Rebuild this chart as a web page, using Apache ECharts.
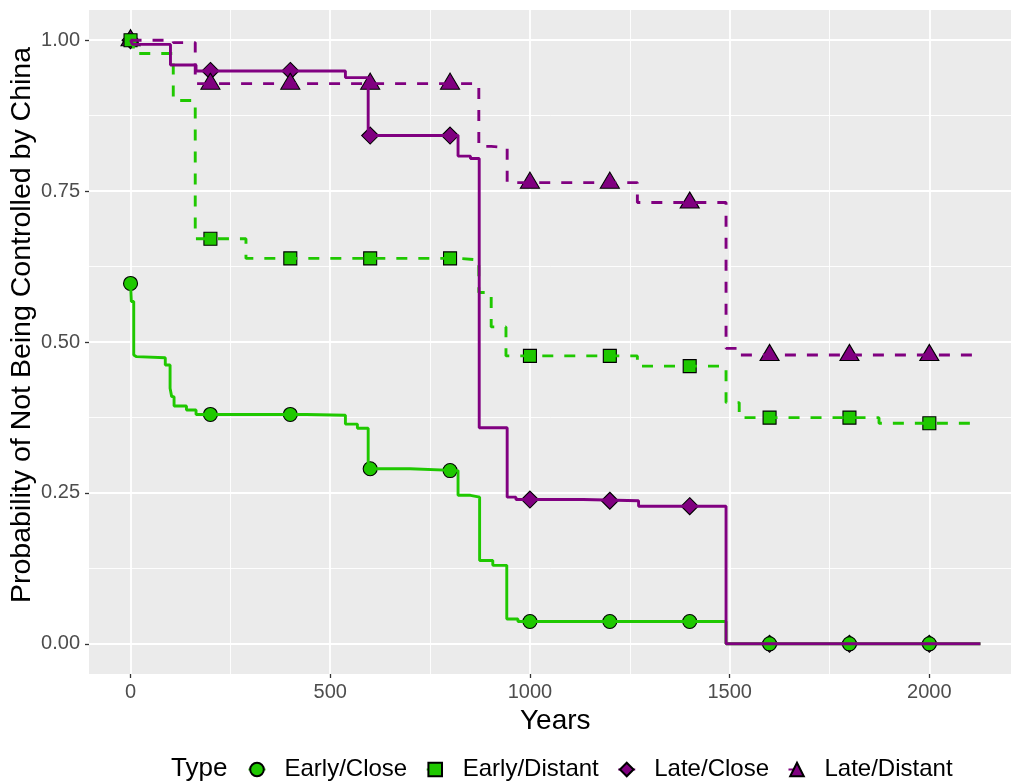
<!DOCTYPE html>
<html><head><meta charset="utf-8">
<script src="https://cdn.jsdelivr.net/npm/echarts@6.0.0/dist/echarts.min.js"></script>
<style>html,body{margin:0;padding:0;background:#fff}#chart{width:1011px;height:783px}</style>
</head><body><div id="chart"></div>
<script>
// ---- data ----
const groups = ['Early/Close', 'Early/Distant', 'Late/Close', 'Late/Distant'];

const earlyCloseYears = [0, 2, 8, 12, 15, 87, 99, 103, 109, 140, 164, 440, 538, 568, 595, 700, 820, 851, 874, 907, 942, 970, 1491, 2128];
const earlyCloseSurv  = [0.597, 0.567, 0.4785, 0.4757, 0.474, 0.462, 0.4233, 0.4095, 0.394, 0.3874, 0.380, 0.3786, 0.364, 0.357, 0.290, 0.287, 0.246, 0.243, 0.138, 0.130, 0.041, 0.037, 0, 0];

const earlyDistantYears = [0, 7, 107, 162, 289, 822, 872, 903, 940, 1269, 1491, 1524, 1874, 2128];
const earlyDistantSurv  = [1.0, 0.978, 0.900, 0.671, 0.6385, 0.636, 0.582, 0.525, 0.477, 0.460, 0.3996, 0.3747, 0.3653, 0.3653];

const lateCloseYears = [0, 5, 100, 164, 538, 595, 820, 851, 873, 943, 965, 1133, 1272, 1491, 2128];
const lateCloseSurv  = [1.0, 0.993, 0.959, 0.949, 0.938, 0.842, 0.808, 0.804, 0.358, 0.243, 0.239, 0.237, 0.228, 0, 0];

const lateDistantYears = [0, 107, 162, 872, 903, 943, 1269, 1491, 1524, 2128];
const lateDistantSurv  = [1.0, 0.996, 0.928, 0.824, 0.822, 0.764, 0.731, 0.4895, 0.4785, 0.4785];

const markerYears = [0, 200, 400, 600, 800, 1000, 1200, 1400, 1600, 1800, 2000];
const earlyCloseMarks   = [0.597, 0.380, 0.380, 0.290, 0.287, 0.037, 0.037, 0.037, 0, 0, 0];
const earlyDistantMarks = [1.0, 0.671, 0.6385, 0.6385, 0.6385, 0.477, 0.477, 0.460, 0.3747, 0.3747, 0.3653];
const lateCloseMarks    = [1.0, 0.949, 0.949, 0.842, 0.842, 0.239, 0.237, 0.228, 0, 0, 0];
const lateDistantMarks  = [1.0, 0.928, 0.928, 0.928, 0.928, 0.764, 0.764, 0.731, 0.4785, 0.4785, 0.4785];

const xTicks = [0, 500, 1000, 1500, 2000];
const xMinorTicks = [250, 750, 1250, 1750];
const yTicks = [0, 0.25, 0.5, 0.75, 1];
const yMinorTicks = [0.125, 0.375, 0.625, 0.875];

const xTitle = 'Years';
const yTitle = 'Probability of Not Being Controlled by China';
const legendTitle = 'Type';

// ---- styling ----
const GREEN = '#1fc800', PURPLE = '#800080';
const FONT = '"Liberation Sans", Arial, Helvetica, sans-serif';
const X_MIN = -104, X_MAX = 2231, Y_MIN = -0.05, Y_MAX = 1.05;
const DASH = [11, 11];

const curves = {
  'Early/Close':   {years: earlyCloseYears, surv: earlyCloseSurv, marks: earlyCloseMarks, color: GREEN, dash: 'solid', symbol: 'circle', size: 14, offset: [0, 0]},
  'Early/Distant': {years: earlyDistantYears, surv: earlyDistantSurv, marks: earlyDistantMarks, color: GREEN, dash: DASH, symbol: 'rect', size: 13, offset: [0, 0]},
  'Late/Close':    {years: lateCloseYears, surv: lateCloseSurv, marks: lateCloseMarks, color: PURPLE, dash: 'solid', symbol: 'diamond', size: 17, offset: [0, 0]},
  'Late/Distant':  {years: lateDistantYears, surv: lateDistantSurv, marks: lateDistantMarks, color: PURPLE, dash: DASH, symbol: 'triangle', size: [19, 16], offset: [0, -2.5]}
};

const series = [];
groups.forEach(name => {
  const c = curves[name];
  series.push({
    name: name, type: 'line', step: 'end',
    data: c.years.map((t, i) => [t, c.surv[i]]),
    showSymbol: false, symbol: c.symbol, symbolSize: c.size,
    lineStyle: {color: c.color, width: 2.9, type: c.dash, cap: 'butt'},
    itemStyle: {color: c.color, borderColor: '#000', borderWidth: 1},
    emphasis: {disabled: true}, silent: true
  });
});
['Late/Close', 'Late/Distant', 'Early/Close', 'Early/Distant'].forEach(name => {
  const c = curves[name];
  series.push({
    name: name + ' points', type: 'scatter',
    data: markerYears.map((t, i) => [t, c.marks[i]]),
    symbol: c.symbol, symbolSize: c.size, symbolOffset: c.offset,
    itemStyle: {color: c.color, borderColor: '#000', borderWidth: 1.1, opacity: 1},
    emphasis: {disabled: true}, silent: true
  });
});

const chart = echarts.init(document.getElementById('chart'), null, {renderer: 'canvas'});
chart.setOption({
  animation: false,
  backgroundColor: '#ffffff',
  textStyle: {fontFamily: FONT},
  grid: {left: 89, right: -10.6, top: 10, bottom: 109, show: true, backgroundColor: '#ebebeb', borderWidth: 0,
         containLabel: false, outerBoundsMode: 'none'},
  xAxis: [{
    type: 'value', min: X_MIN, max: X_MAX, position: 'bottom',
    name: xTitle, nameLocation: 'middle', nameGap: 28,
    nameTextStyle: {fontSize: 28, color: '#000', fontFamily: FONT},
    axisLine: {show: false, onZero: false},
    axisTick: {show: true, customValues: xTicks, length: 4, lineStyle: {color: '#333333', width: 1.3}},
    axisLabel: {customValues: xTicks, fontSize: 20, color: '#4d4d4d', margin: 8, fontFamily: FONT,
      formatter: v => String(v)},
    splitLine: {show: true, lineStyle: {color: '#ffffff', width: 1.8}}
  }, {
    type: 'value', min: X_MIN, max: X_MAX, position: 'bottom',
    axisLine: {show: false, onZero: false},
    axisTick: {show: false, customValues: xMinorTicks},
    axisLabel: {show: false, customValues: xMinorTicks},
    splitLine: {show: true, lineStyle: {color: '#ffffff', width: 0.9}}
  }],
  yAxis: [{
    type: 'value', min: Y_MIN, max: Y_MAX, position: 'left',
    axisLine: {show: false, onZero: false},
    axisTick: {show: true, customValues: yTicks, length: 4, lineStyle: {color: '#333333', width: 1.3}},
    axisLabel: {customValues: yTicks, fontSize: 20, color: '#4d4d4d', margin: 9, fontFamily: FONT,
      formatter: v => Number(v).toFixed(2)},
    splitLine: {show: true, lineStyle: {color: '#ffffff', width: 1.8}}
  }, {
    type: 'value', min: Y_MIN, max: Y_MAX, position: 'left',
    axisLine: {show: false, onZero: false},
    axisTick: {show: false, customValues: yMinorTicks},
    axisLabel: {show: false, customValues: yMinorTicks},
    splitLine: {show: true, lineStyle: {color: '#ffffff', width: 0.9}}
  }],
  legend: {
    data: groups, left: 247.5, top: 757.5, padding: 0, orient: 'horizontal',
    itemWidth: 17, itemHeight: 17, itemGap: 18.5, selectedMode: false,
    textStyle: {fontSize: 24, color: '#000', fontFamily: FONT, lineHeight: 24, padding: [0, 0, 0, 14]}
  },
  graphic: [{
    type: 'text', x: 171, y: 769,
    style: {text: legendTitle, fontSize: 26, fill: '#000', fontFamily: FONT, verticalAlign: 'middle', align: 'left'}
  }, {
    type: 'text', x: 22, y: 325, rotation: Math.PI / 2,
    style: {text: yTitle, fontSize: 28.5, fill: '#000', fontFamily: FONT, verticalAlign: 'middle', align: 'center'}
  }],
  series: series
});
</script>
</body></html>
